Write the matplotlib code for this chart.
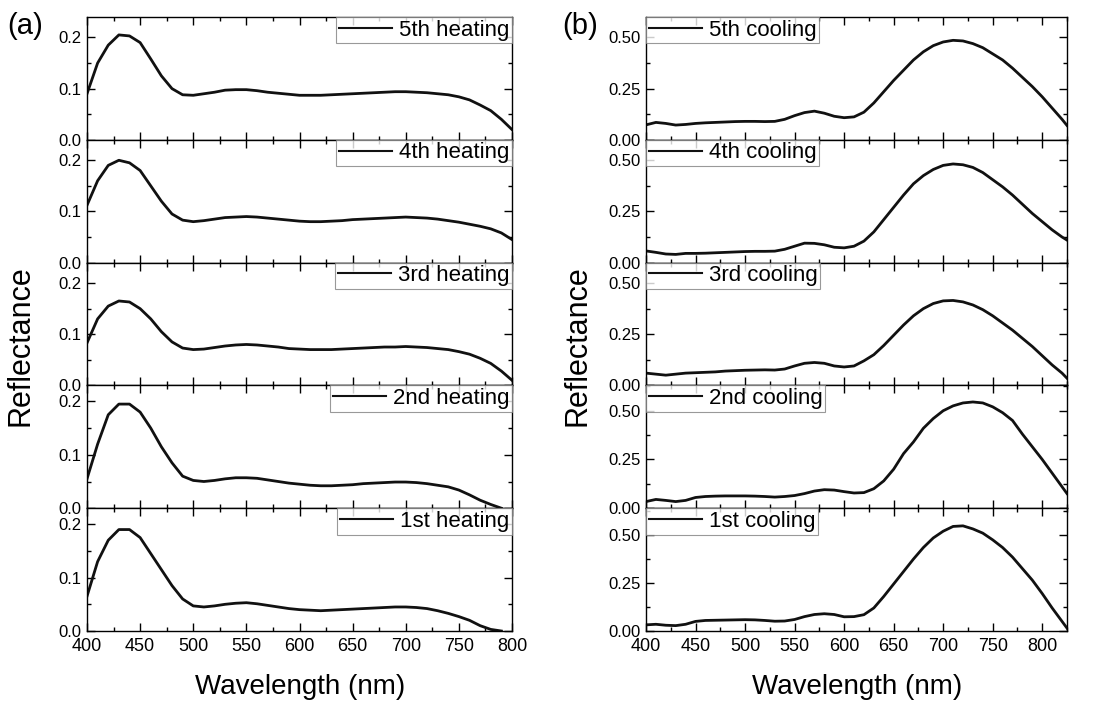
import numpy as np
import matplotlib
matplotlib.use("Agg")
import matplotlib.pyplot as plt
from matplotlib.ticker import MultipleLocator, FormatStrFormatter

plt.rcParams['font.family'] = ['Liberation Sans', 'DejaVu Sans']

# wavelength grids (nm)
wl_heat = np.arange(400, 801, 10)
wl_cool = np.append(np.arange(400, 821, 10), 825)

# heating spectra, every 10 nm (400..800)
heat_1st = [0.065, 0.13, 0.17, 0.19, 0.19, 0.175, 0.145, 0.115, 0.085, 0.06,
            0.047, 0.045, 0.047, 0.05, 0.052, 0.053, 0.051, 0.048, 0.045, 0.042,
            0.04, 0.039, 0.038, 0.039, 0.04, 0.041, 0.042, 0.043, 0.044, 0.045,
            0.045, 0.044, 0.042, 0.038, 0.033, 0.027, 0.02, 0.01, 0.003, 0.0,
            np.nan]
heat_2nd = [0.055, 0.12, 0.175, 0.195, 0.195, 0.18, 0.15, 0.115, 0.085, 0.06,
            0.052, 0.05, 0.052, 0.055, 0.057, 0.057, 0.056, 0.053, 0.05, 0.047,
            0.045, 0.043, 0.042, 0.042, 0.043, 0.044, 0.046, 0.047, 0.048, 0.049,
            0.049, 0.048, 0.046, 0.043, 0.04, 0.034, 0.025, 0.015, 0.007, 0.0,
            np.nan]
heat_3rd = [0.083, 0.13, 0.155, 0.165, 0.163, 0.15, 0.13, 0.105, 0.085, 0.073,
            0.07, 0.071, 0.074, 0.077, 0.079, 0.08, 0.079, 0.077, 0.075, 0.072,
            0.071, 0.07, 0.07, 0.07, 0.071, 0.072, 0.073, 0.074, 0.075, 0.075,
            0.076, 0.075, 0.074, 0.072, 0.07, 0.066, 0.061, 0.053, 0.043, 0.028,
            0.01]
heat_4th = [0.112, 0.16, 0.19, 0.2, 0.195, 0.18, 0.15, 0.12, 0.095, 0.083,
            0.08, 0.082, 0.085, 0.088, 0.089, 0.09, 0.089, 0.087, 0.085, 0.083,
            0.081, 0.08, 0.08, 0.081, 0.082, 0.084, 0.085, 0.086, 0.087, 0.088,
            0.089, 0.088, 0.087, 0.085, 0.082, 0.079, 0.075, 0.071, 0.066, 0.058,
            0.045]
heat_5th = [0.09, 0.15, 0.185, 0.205, 0.203, 0.19, 0.158, 0.125, 0.1, 0.088,
            0.087, 0.09, 0.093, 0.097, 0.098, 0.098, 0.096, 0.093, 0.091, 0.089,
            0.087, 0.087, 0.087, 0.088, 0.089, 0.09, 0.091, 0.092, 0.093, 0.094,
            0.094, 0.093, 0.092, 0.09, 0.088, 0.084, 0.078, 0.068, 0.057, 0.04,
            0.02]

# cooling spectra, every 10 nm (400..820) plus 825
cool_1st = [0.032, 0.035, 0.03, 0.028, 0.035, 0.05, 0.055, 0.056, 0.057, 0.058,
            0.059, 0.058, 0.055, 0.051, 0.052, 0.06, 0.075, 0.086, 0.09, 0.086,
            0.074, 0.075, 0.085, 0.12, 0.18, 0.245, 0.31, 0.375, 0.435, 0.485,
            0.52, 0.545, 0.548, 0.532, 0.51, 0.475, 0.435, 0.385, 0.325, 0.265,
            0.195, 0.12, 0.05, 0.015]
cool_2nd = [0.034, 0.045, 0.04, 0.034, 0.04, 0.055, 0.06, 0.062, 0.063, 0.063,
            0.063, 0.062, 0.06, 0.057, 0.06, 0.065, 0.075, 0.088, 0.095, 0.093,
            0.085, 0.078, 0.08, 0.1, 0.14, 0.2, 0.28, 0.34, 0.41, 0.46,
            0.5, 0.525, 0.54, 0.545, 0.54, 0.52, 0.49, 0.45, 0.38, 0.315,
            0.25, 0.18, 0.11, 0.075]
cool_3rd = [0.06, 0.055, 0.05, 0.055, 0.06, 0.062, 0.064, 0.066, 0.07, 0.072,
            0.074, 0.075, 0.076, 0.075, 0.08, 0.095, 0.108, 0.112, 0.108, 0.095,
            0.09, 0.095, 0.12, 0.15, 0.195, 0.245, 0.295, 0.34, 0.375, 0.4,
            0.413, 0.415, 0.408, 0.393, 0.37, 0.34, 0.305, 0.27, 0.23, 0.19,
            0.145, 0.1, 0.06, 0.035]
cool_4th = [0.057, 0.05, 0.042, 0.04, 0.045, 0.045, 0.046, 0.048, 0.05, 0.052,
            0.054, 0.055, 0.055, 0.056, 0.065, 0.08, 0.095, 0.094, 0.087, 0.075,
            0.072, 0.08, 0.105, 0.15, 0.21, 0.27, 0.33, 0.385, 0.425, 0.455,
            0.475, 0.482, 0.478, 0.465, 0.44, 0.405, 0.37, 0.33, 0.285, 0.24,
            0.2, 0.16, 0.125, 0.11]
cool_5th = [0.073, 0.085, 0.08, 0.072, 0.075, 0.08, 0.083, 0.085, 0.087, 0.089,
            0.09, 0.09, 0.089, 0.09, 0.1, 0.118, 0.133, 0.14, 0.13, 0.115,
            0.108, 0.112, 0.135, 0.18, 0.235, 0.29, 0.34, 0.39, 0.43, 0.46,
            0.478, 0.486, 0.483, 0.47, 0.45, 0.42, 0.39, 0.35, 0.305, 0.26,
            0.21, 0.155, 0.1, 0.07]

heat_labels = ["5th heating", "4th heating", "3rd heating", "2nd heating", "1st heating"]
cool_labels = ["5th cooling", "4th cooling", "3rd cooling", "2nd cooling", "1st cooling"]
heat_series = [heat_5th, heat_4th, heat_3rd, heat_2nd, heat_1st]
cool_series = [cool_5th, cool_4th, cool_3rd, cool_2nd, cool_1st]
heat_ytop = [0.24, 0.24, 0.24, 0.23, 0.23]
cool_ytop = [0.60, 0.60, 0.60, 0.63, 0.64]

fig = plt.figure(figsize=(10.95, 7.06), dpi=100)

# panel grid in figure fractions (5 stacked panels per column, no gaps)
top, bottom = 1 - 17 / 706, 1 - 631 / 706
h = (top - bottom) / 5
cols = [(87 / 1095, 425 / 1095), (646 / 1095, 421 / 1095)]


def style_axis(ax, xmax, ymajor, last):
    ax.set_xlim(400, xmax)
    ax.xaxis.set_major_locator(MultipleLocator(50))
    ax.xaxis.set_minor_locator(MultipleLocator(25))
    ax.yaxis.set_major_locator(MultipleLocator(ymajor))
    ax.yaxis.set_minor_locator(MultipleLocator(ymajor / 2))
    ax.tick_params(which="both", direction="in", top=True, right=True, width=1)
    ax.tick_params(which="major", length=6)
    ax.tick_params(which="minor", length=3)
    ax.tick_params(axis="y", labelsize=12, pad=4)
    ax.tick_params(axis="x", labelsize=13, pad=5)
    if not last:
        ax.tick_params(axis="x", labelbottom=False)
    for sp in ax.spines.values():
        sp.set_linewidth(1)


for col, (x0, w) in enumerate(cols):
    if col == 0:
        series, labels, ytops = heat_series, heat_labels, heat_ytop
        wl, xmax, ymaj, fmt, loc = wl_heat, 800, 0.1, "%.1f", "upper right"
    else:
        series, labels, ytops = cool_series, cool_labels, cool_ytop
        wl, xmax, ymaj, fmt, loc = wl_cool, 825, 0.25, "%.2f", "upper left"
    for i in range(5):
        ax = fig.add_axes([x0, top - (i + 1) * h, w, h])
        ax.plot(wl, series[i], color="#111111", linewidth=2.0, label=labels[i])
        ax.set_ylim(0, ytops[i])
        style_axis(ax, xmax, ymaj, i == 4)
        ax.yaxis.set_major_formatter(FormatStrFormatter(fmt))
        leg = ax.legend(loc=loc, fontsize=16, frameon=True, fancybox=False,
                        borderaxespad=0, borderpad=0.12, handlelength=2.4,
                        handletextpad=0.3, edgecolor="#808080")
        leg.get_frame().set_linewidth(0.8)
        for line in leg.get_lines():
            line.set_linewidth(1.5)

fig.text(21 / 1095, 1 - 346 / 706, "Reflectance", rotation=90, fontsize=22,
         ha="center", va="center")
fig.text(578 / 1095, 1 - 346 / 706, "Reflectance", rotation=90, fontsize=22,
         ha="center", va="center")
fig.text(300 / 1095, 1 - 687 / 706, "Wavelength (nm)", fontsize=20,
         ha="center", va="center")
fig.text(857 / 1095, 1 - 687 / 706, "Wavelength (nm)", fontsize=20,
         ha="center", va="center")
fig.text(7 / 1095, 1 - 26 / 706, "(a)", fontsize=21, ha="left", va="center")
fig.text(562 / 1095, 1 - 26 / 706, "(b)", fontsize=21, ha="left", va="center")

fig.savefig("out.png", dpi=100)
